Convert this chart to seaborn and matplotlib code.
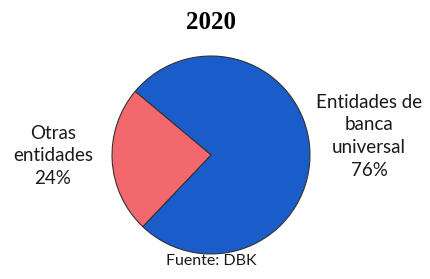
import matplotlib
matplotlib.use("Agg")
import matplotlib.pyplot as plt
import seaborn as sns

# data
categorias = ["Entidades de\nbanca\nuniversal", "Otras\nentidades"]
cuotas = [76, 24]
colores = ["#1b5ccb", "#f3686d"]
titulo = "2020"
fuente = "Fuente: DBK"

sns.set_theme(style="white")
plt.rcParams['font.family'] = ['Lato', 'DejaVu Sans']

fig = plt.figure(figsize=(4.31, 2.79), dpi=100)
ax = fig.add_axes([0, 0, 1, 1])

etiquetas = [f"{c}\n{v}%" for c, v in zip(categorias, cuotas)]
wedges, texts = ax.pie(cuotas, labels=etiquetas, colors=colores,
                       startangle=226.4, counterclock=True,
                       labeldistance=1.6,
                       wedgeprops=dict(edgecolor="#333333", linewidth=0.8),
                       textprops=dict(fontsize=13.5, color="#1a1a1a"))
for t in texts:
    t.set_ha("center")
    t.set_va("center")
    t.set_linespacing(1.4)
# nudge labels like the reference
x, y = texts[0].get_position()
texts[0].set_position((x, y + 0.1))
x, y = texts[1].get_position()
texts[1].set_position((x, y + 0.08))

ax.set_xlim(-2.131, 2.222)
ax.set_ylim(-1.253, 1.566)
ax.set_aspect("equal")
ax.axis("off")

ax.text(0, 1.34, titulo, ha="center", va="center", fontsize=18,
        fontweight="bold", family="Liberation Serif", color="black")
ax.text(0, -1.07, fuente, ha="center", va="center", fontsize=11.5,
        color="#1a1a1a")

fig.savefig("out.png", dpi=100)
